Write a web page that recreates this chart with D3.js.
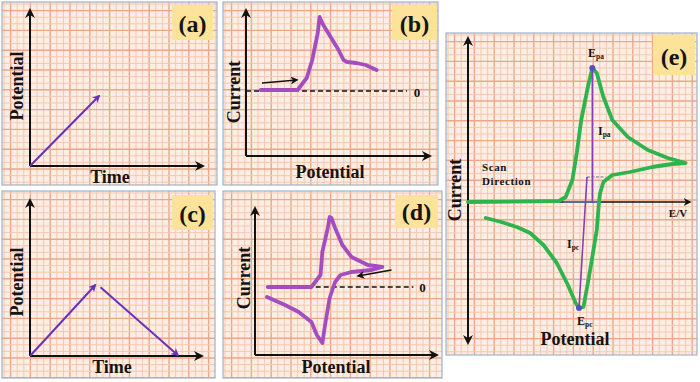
<!DOCTYPE html>
<html>
<head>
<meta charset="utf-8">
<script src="https://cdn.jsdelivr.net/npm/d3@7"></script>
<style>
  body { margin: 0; background: #fff; }
  svg text { font-family: "Times New Roman", "Liberation Serif", Times, serif; font-weight: bold; fill: #141414; }
</style>
</head>
<body>
<svg id="chart" width="700" height="382"></svg>
<script>
"use strict";

// (a) linear sweep: potential vs time
const timeA = [0, 4.0];
const potentialA = [0, 4.5];

// (c) triangular sweep: forward and reverse legs
const timeCUp = [0, 3.8];
const potentialCUp = [0, 4.55];
const timeCDown = [4.1, 8.6];
const potentialCDown = [4.4, 0.05];

// (b) linear sweep voltammogram
const potentialB = [0.8, 2.8, 3.3, 3.6, 3.9, 4.0, 4.2, 4.7, 5.0, 5.3, 5.5, 6.0, 6.5, 7.1];
const currentB = [0.1, 0.1, 1.3, 3.1, 5.8, 7.4, 6.6, 5.1, 4.2, 3.1, 2.9, 2.8, 2.6, 2.1];
const arrowB = { potential: [0.87, 2.77], current: [0.8, 1.1] };

// (d) cyclic voltammogram
const potentialD = [0.7, 3.1, 3.6, 3.7, 4.0, 4.1, 4.2, 4.4, 4.8, 5.3, 6.2, 7.0, 6.4, 5.3, 4.7, 4.4, 4.1, 3.85, 3.7, 3.4, 3.1, 2.4, 1.65, 0.66];
const currentD = [0, 0, 1.2, 3.5, 5.9, 7.0, 6.9, 5.9, 4.2, 3.0, 2.2, 2.0, 1.7, 1.5, 1.2, 0.5, -1.1, -3.8, -5.6, -4.8, -3.5, -2.5, -1.8, -1.0];
const arrowD = { potential: [7.5, 5.66], current: [1.7, 1.1] };

// (e) annotated cyclic voltammogram
const potentialE = [0, 4.1, 4.4, 4.7, 4.9, 5.1, 5.4, 5.6, 5.8, 6.1, 6.5, 7.2, 8.1, 9.0, 9.8,
                    9.2, 8.3, 7.3, 6.5, 6.1, 5.95, 5.9, 5.8, 5.6, 5.4, 5.2, 5.0, 4.85, 4.5, 4.0, 3.4, 2.8, 2.2, 1.5, 0.8];
const currentE = [0, 0.1, 0.5, 2.2, 4.9, 8.2, 11.5, 13.4, 12.9, 10.5, 8.2, 6.5, 5.2, 4.4, 3.9,
                  3.8, 3.5, 3.0, 2.7, 2.0, 0.9, 0, -2.8, -5.5, -8.1, -10.5, -10.6, -10.1, -8.3, -6.1, -4.3, -3.1, -2.5, -2.0, -1.6];
const peakAnodic = { potential: 5.6, current: 13.4 };
const peakCathodic = { potential: 5.0, current: -10.6 };

const panels = [
  { id: "a", x: 2, y: 2, w: 215, h: 183, label: "(a)", box: [170, 3, 41, 35] },
  { id: "b", x: 223, y: 2, w: 215, h: 183, label: "(b)", box: [169, 3, 45, 35] },
  { id: "c", x: 2, y: 191, w: 213, h: 187, label: "(c)", box: [170, 4, 41, 35] },
  { id: "d", x: 223, y: 191, w: 219, h: 187, label: "(d)", box: [172, 4, 43, 33] },
  { id: "e", x: 446, y: 33, w: 251, h: 322, label: "(e)", box: [207, 2, 42, 40] }
];

const purple = "#6a2fbf";
const magenta = "#a54cbf";
const green = "#2fb34c";

const svg = d3.select("#chart");
const defs = svg.append("defs");

function marker(id, color, size) {
  defs.append("marker")
    .attr("id", id)
    .attr("viewBox", "0 0 10 10")
    .attr("refX", 8)
    .attr("refY", 5)
    .attr("markerWidth", size)
    .attr("markerHeight", size)
    .attr("markerUnits", "userSpaceOnUse")
    .attr("orient", "auto-start-reverse")
    .append("path")
    .attr("d", "M0,0 L10,5 L0,10 L3,5 Z")
    .attr("fill", color);
}
marker("arrBlack", "#111", 10);
marker("arrSmall", "#111", 8);
marker("arrPurple", purple, 8);

// panel backgrounds with graph-paper grid
panels.forEach((p) => {
  defs.append("clipPath").attr("id", "clip-" + p.id)
    .append("rect").attr("width", p.w).attr("height", p.h);

  const g = svg.append("g").attr("transform", `translate(${p.x},${p.y})`);
  g.append("rect").attr("width", p.w).attr("height", p.h).attr("fill", "#fdeee5");

  const grid = g.append("g").attr("clip-path", `url(#clip-${p.id})`);
  const step = 6.6;
  grid.selectAll(".gv").data(d3.range(2, p.w, step)).join("line")
    .attr("x1", (d) => d).attr("x2", (d) => d)
    .attr("y1", 0).attr("y2", p.h)
    .attr("stroke", (d, i) => (i % 3 === 1 ? "#eba887" : "#f4c8b0"))
    .attr("stroke-width", (d, i) => (i % 3 === 1 ? 1.4 : 1));
  grid.selectAll(".gh").data(d3.range(2, p.h, step)).join("line")
    .attr("y1", (d) => d).attr("y2", (d) => d)
    .attr("x1", 0).attr("x2", p.w)
    .attr("stroke", (d, i) => (i % 3 === 1 ? "#eba887" : "#f4c8b0"))
    .attr("stroke-width", (d, i) => (i % 3 === 1 ? 1.4 : 1));

  g.append("rect").attr("width", p.w).attr("height", p.h)
    .attr("fill", "none").attr("stroke", "#9db3cc").attr("stroke-width", 1.2);

  const [bx, by, bw, bh] = p.box;
  g.append("rect").attr("x", bx).attr("y", by).attr("width", bw).attr("height", bh).attr("fill", "#fde39a");
  g.append("text").attr("x", bx + bw / 2).attr("y", by + bh * 0.76)
    .attr("text-anchor", "middle").attr("font-size", 24).text(p.label);
});

function axes(x, y, x0, y0) {
  svg.append("line")
    .attr("x1", x.range()[0]).attr("x2", x.range()[1])
    .attr("y1", y0).attr("y2", y0)
    .attr("stroke", "#111").attr("stroke-width", 2)
    .attr("marker-end", "url(#arrBlack)");
  svg.append("line")
    .attr("x1", x0).attr("x2", x0)
    .attr("y1", y.range()[0]).attr("y2", y.range()[1])
    .attr("stroke", "#111").attr("stroke-width", 2)
    .attr("marker-end", "url(#arrBlack)");
}

function label(x, y, text, size, rotate) {
  const t = svg.append("text").attr("font-size", size).attr("text-anchor", "middle").text(text);
  if (rotate) t.attr("transform", `translate(${x},${y}) rotate(-90)`);
  else t.attr("x", x).attr("y", y);
  return t;
}

const line = (x, y) => d3.line().x((d) => x(d[0])).y((d) => y(d[1]));

// ---- (a)
{
  const x = d3.scaleLinear().domain([0, 10]).range([30, 203]);
  const y = d3.scaleLinear().domain([0, 10]).range([166, 10]);
  axes(x, y, x(0), y(0));
  svg.append("path").attr("d", line(x, y)(d3.zip(timeA, potentialA)))
    .attr("fill", "none").attr("stroke", purple).attr("stroke-width", 2)
    .attr("marker-end", "url(#arrPurple)");
  label(23, 86, "Potential", 18, true);
  label(110, 183, "Time", 18);
}

// ---- (c)
{
  const x = d3.scaleLinear().domain([0, 10]).range([30, 202]);
  const y = d3.scaleLinear().domain([0, 10]).range([356, 200]);
  axes(x, y, x(0), y(0));
  [[timeCUp, potentialCUp], [timeCDown, potentialCDown]].forEach(([t, v]) => {
    svg.append("path").attr("d", line(x, y)(d3.zip(t, v)))
      .attr("fill", "none").attr("stroke", purple).attr("stroke-width", 2)
      .attr("marker-end", "url(#arrPurple)");
  });
  label(23, 282, "Potential", 18, true);
  label(112, 373, "Time", 18);
}

// ---- (b)
{
  const x = d3.scaleLinear().domain([0, 10]).range([246, 430]);
  const y = d3.scaleLinear().domain([-6.5, 8.1]).range([156, 10]);
  axes(x, y, x(0), y(-6.5));
  svg.append("line").attr("x1", x(0)).attr("x2", x(8.75)).attr("y1", y(0)).attr("y2", y(0))
    .attr("stroke", "#111").attr("stroke-width", 1.6).attr("stroke-dasharray", "5,3");
  svg.append("text").attr("x", x(9.3)).attr("y", y(0) + 6).attr("text-anchor", "middle").attr("font-size", 13).text("0");
  svg.append("path").attr("d", line(x, y)(d3.zip(potentialB, currentB)))
    .attr("fill", "none").attr("stroke", magenta).attr("stroke-width", 3.8)
    .attr("stroke-linejoin", "round").attr("stroke-linecap", "round");
  svg.append("path").attr("d", line(x, y)(d3.zip(arrowB.potential, arrowB.current)))
    .attr("fill", "none").attr("stroke", "#111").attr("stroke-width", 1.6)
    .attr("marker-end", "url(#arrSmall)");
  label(240, 92, "Current", 18, true);
  label(330, 178, "Potential", 18);
}

// ---- (d)
{
  const x = d3.scaleLinear().domain([0, 10]).range([255, 437]);
  const y = d3.scaleLinear().domain([-6.8, 7.9]).range([355, 208]);
  axes(x, y, x(0), y(-6.8));
  svg.append("line").attr("x1", x(0.7)).attr("x2", x(8.7)).attr("y1", y(0)).attr("y2", y(0))
    .attr("stroke", "#111").attr("stroke-width", 1.6).attr("stroke-dasharray", "5,3");
  svg.append("text").attr("x", x(9.2)).attr("y", y(0) + 5).attr("text-anchor", "middle").attr("font-size", 13).text("0");
  svg.append("path").attr("d", line(x, y)(d3.zip(potentialD, currentD)))
    .attr("fill", "none").attr("stroke", magenta).attr("stroke-width", 3.8)
    .attr("stroke-linejoin", "round").attr("stroke-linecap", "round");
  svg.append("path").attr("d", line(x, y)(d3.zip(arrowD.potential, arrowD.current)))
    .attr("fill", "none").attr("stroke", "#111").attr("stroke-width", 1.6)
    .attr("marker-end", "url(#arrSmall)");
  label(250, 278, "Current", 18, true);
  label(336, 373, "Potential", 18);
}

// ---- (e)
{
  const x = d3.scaleLinear().domain([0, 10]).range([468, 690]);
  const y = d3.scaleLinear().domain([-14.1, 16.4]).range([343, 38]);
  svg.append("line").attr("x1", x(0)).attr("x2", x(10)).attr("y1", y(0)).attr("y2", y(0))
    .attr("stroke", "#111").attr("stroke-width", 1.6).attr("marker-end", "url(#arrSmall)");
  svg.append("line").attr("x1", x(0)).attr("x2", x(0)).attr("y1", y(-14.1)).attr("y2", y(16.4))
    .attr("stroke", "#111").attr("stroke-width", 2)
    .attr("marker-start", "url(#arrBlack)").attr("marker-end", "url(#arrBlack)");

  svg.append("line").attr("x1", x(4.3)).attr("x2", x(6.0)).attr("y1", y(0)).attr("y2", y(0))
    .attr("stroke", "#4a7fd0").attr("stroke-width", 1.4);

  svg.append("path").attr("d", line(x, y)(d3.zip(potentialE, currentE)))
    .attr("fill", "none").attr("stroke", green).attr("stroke-width", 3.8)
    .attr("stroke-linejoin", "round").attr("stroke-linecap", "round");

  // peak current guides
  svg.append("line").attr("x1", x(5.36)).attr("x2", x(6.2)).attr("y1", y(2.5)).attr("y2", y(2.5))
    .attr("stroke", "#9a9a9a").attr("stroke-width", 1.4).attr("stroke-dasharray", "3,1.5");
  svg.append("line").attr("x1", x(peakAnodic.potential)).attr("x2", x(peakAnodic.potential))
    .attr("y1", y(peakAnodic.current)).attr("y2", y(0))
    .attr("stroke", "#8b3fb3").attr("stroke-width", 1.6);
  svg.append("line").attr("x1", x(5.36)).attr("x2", x(peakCathodic.potential))
    .attr("y1", y(2.5)).attr("y2", y(peakCathodic.current))
    .attr("stroke", "#8b3fb3").attr("stroke-width", 1.6);
  [peakAnodic, peakCathodic].forEach((pk) => {
    svg.append("circle").attr("cx", x(pk.potential)).attr("cy", y(pk.current)).attr("r", 3)
      .attr("fill", "#5a4cc8");
  });

  const sub = (x0, y0, main, s, size) => {
    const t = svg.append("text").attr("x", x0).attr("y", y0).attr("font-size", size);
    t.append("tspan").text(main);
    t.append("tspan").attr("font-size", size * 0.62).attr("dy", 2).text(s);
  };
  sub(588, 57, "E", "pa", 12);
  sub(598, 135, "I", "pa", 12);
  sub(567, 248, "I", "pc", 12);
  sub(577, 325, "E", "pc", 12);

  svg.append("text").attr("x", 482).attr("y", 171).attr("font-size", 11).attr("letter-spacing", 0.6).text("Scan");
  svg.append("text").attr("x", 482).attr("y", 185).attr("font-size", 11).attr("letter-spacing", 0.6).text("Direction");
  svg.append("text").attr("x", 678).attr("y", 217).attr("text-anchor", "middle").attr("font-size", 11).text("E/V");
  label(461, 190, "Current", 18, true);
  label(575, 345, "Potential", 18);
}
</script>
</body>
</html>
